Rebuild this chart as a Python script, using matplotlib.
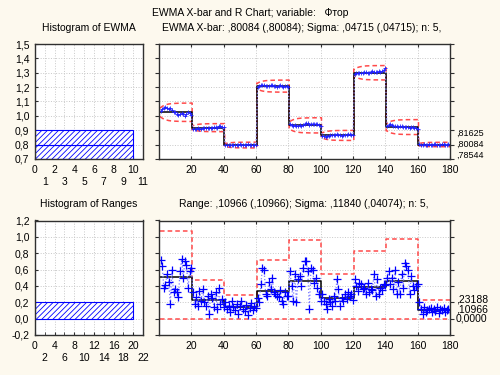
import matplotlib
matplotlib.use('Agg')
import matplotlib.pyplot as plt
import matplotlib.transforms as mtransforms
from matplotlib.ticker import FuncFormatter

plt.rcParams['font.family'] = ['Liberation Sans', 'DejaVu Sans']
plt.rcParams['font.size'] = 7.5
plt.rcParams['hatch.color'] = '#2020ff'
plt.rcParams['hatch.linewidth'] = 0.6

# ---- data ----
seg_len = 20
n_seg = 9

ewma_center = [1.025, 0.918, 0.797, 1.207, 0.934, 0.864, 1.300, 0.922, 0.80084]
ewma_halfwidth = [0.064, 0.028, 0.020, 0.042, 0.053, 0.035, 0.050, 0.052, 0.01541]
limit_ramp = [0.50, 0.64, 0.74, 0.81, 0.86, 0.90, 0.93, 0.95, 0.96, 0.97,
              0.98, 0.985, 0.99, 0.99, 0.995, 1.0, 1.0, 1.0, 1.0, 1.0]

ewma_seg1 = [1.035, 1.045, 1.055, 1.06, 1.058, 1.05, 1.052, 1.04, 1.03, 1.025,
             1.015, 1.005, 1.01, 1.02, 1.01, 1.0, 1.015, 1.025, 1.02, 1.005]
ewma_seg2 = [0.912, 0.908, 0.91, 0.914, 0.912, 0.909, 0.913, 0.916, 0.914, 0.918,
             0.915, 0.913, 0.918, 0.924, 0.92, 0.918, 0.927, 0.93, 0.924, 0.92]
ewma_seg3 = [0.80, 0.797, 0.795, 0.798, 0.80, 0.796, 0.794, 0.797, 0.799, 0.801,
             0.798, 0.795, 0.797, 0.80, 0.802, 0.799, 0.797, 0.798, 0.80, 0.799]
ewma_seg4 = [1.20, 1.205, 1.212, 1.218, 1.215, 1.21, 1.205, 1.208, 1.212, 1.215,
             1.21, 1.205, 1.20, 1.208, 1.212, 1.206, 1.20, 1.205, 1.21, 1.204]
ewma_seg5 = [0.94, 0.935, 0.93, 0.935, 0.928, 0.932, 0.936, 0.933, 0.938, 0.945,
             0.95, 0.948, 0.938, 0.942, 0.946, 0.944, 0.945, 0.94, 0.935, 0.93]
ewma_seg6 = [0.86, 0.858, 0.856, 0.86, 0.862, 0.865, 0.868, 0.866, 0.87, 0.872,
             0.868, 0.865, 0.862, 0.866, 0.87, 0.868, 0.872, 0.875, 0.87, 0.868]
ewma_seg7 = [1.29, 1.295, 1.30, 1.298, 1.295, 1.30, 1.305, 1.302, 1.298, 1.30,
             1.305, 1.31, 1.306, 1.302, 1.305, 1.31, 1.308, 1.312, 1.318, 1.33]
ewma_seg8 = [0.93, 0.938, 0.942, 0.935, 0.932, 0.93, 0.928, 0.925, 0.93, 0.927,
             0.924, 0.922, 0.925, 0.92, 0.918, 0.922, 0.92, 0.918, 0.915, 0.912]
ewma_seg9 = [0.805, 0.80, 0.798, 0.801, 0.799, 0.80, 0.802, 0.80, 0.798, 0.801,
             0.803, 0.80, 0.799, 0.80, 0.802, 0.801, 0.799, 0.80, 0.802, 0.801]
ewma_values = (ewma_seg1 + ewma_seg2 + ewma_seg3 + ewma_seg4 + ewma_seg5
               + ewma_seg6 + ewma_seg7 + ewma_seg8 + ewma_seg9)

range_center = [0.506, 0.224, 0.139, 0.343, 0.457, 0.253, 0.388, 0.457, 0.10966]
range_ucl = [1.07, 0.478, 0.286, 0.723, 0.96, 0.54, 0.833, 0.968, 0.23188]
range_lcl = [0.0] * 9

range_seg1 = [0.72, 0.64, 0.38, 0.41, 0.55, 0.45, 0.18, 0.60, 0.32, 0.36,
              0.32, 0.26, 0.58, 0.73, 0.50, 0.70, 0.66, 0.38, 0.58, 0.62]
range_seg2 = [0.32, 0.18, 0.26, 0.15, 0.34, 0.22, 0.36, 0.20, 0.16, 0.28,
              0.06, 0.30, 0.25, 0.14, 0.32, 0.12, 0.37, 0.18, 0.24, 0.14]
range_seg3 = [0.20, 0.12, 0.16, 0.08, 0.22, 0.14, 0.10, 0.18, 0.06, 0.15,
              0.21, 0.12, 0.09, 0.17, 0.05, 0.13, 0.19, 0.11, 0.16, 0.13]
range_seg4 = [0.25, 0.20, 0.42, 0.62, 0.60, 0.30, 0.28, 0.45, 0.36, 0.50,
              0.32, 0.30, 0.28, 0.26, 0.35, 0.22, 0.18, 0.32, 0.28, 0.28]
range_seg5 = [0.58, 0.40, 0.22, 0.55, 0.20, 0.48, 0.52, 0.40, 0.62, 0.70,
              0.70, 0.58, 0.12, 0.62, 0.60, 0.44, 0.50, 0.38, 0.30, 0.22]
range_seg6 = [0.30, 0.22, 0.18, 0.12, 0.24, 0.20, 0.16, 0.28, 0.22, 0.48,
              0.36, 0.16, 0.25, 0.22, 0.30, 0.24, 0.32, 0.28, 0.30, 0.23]
range_seg7 = [0.48, 0.40, 0.34, 0.44, 0.42, 0.36, 0.38, 0.30, 0.44, 0.32,
              0.36, 0.35, 0.55, 0.28, 0.48, 0.30, 0.38, 0.35, 0.42, 0.41]
range_seg8 = [0.50, 0.58, 0.42, 0.50, 0.36, 0.60, 0.30, 0.45, 0.30, 0.55,
              0.38, 0.68, 0.64, 0.60, 0.30, 0.52, 0.40, 0.35, 0.40, 0.42]
range_seg9 = [0.20, 0.12, 0.06, 0.14, 0.08, 0.10, 0.12, 0.13, 0.08, 0.12,
              0.09, 0.14, 0.07, 0.12, 0.10, 0.13, 0.08, 0.11, 0.12, 0.10]
range_values = (range_seg1 + range_seg2 + range_seg3 + range_seg4 + range_seg5
                + range_seg6 + range_seg7 + range_seg8 + range_seg9)

hist_ewma_bins = [0.7, 0.8]
hist_ewma_counts = [10, 10]
hist_range_bins = [0.0]
hist_range_counts = [20]

ewma_right_labels = [(0.81625, ',81625'), (0.80084, ',80084'), (0.78544, ',78544')]
range_right_labels = [(0.23188, ',23188'), (0.10966, ',10966'), (0.0, '0,0000')]

samples = list(range(1, n_seg * seg_len + 1))

BG = '#fdf9ee'
RED = '#ff4a4a'
BLUE = '#0000ff'


def comma(v, pos):
    return f'{v:.1f}'.replace('.', ',')


def step_line(values):
    # per-segment curves joined by vertical jumps at segment edges
    xs, ys = [], []
    for s in range(n_seg):
        vals = values[s * seg_len:(s + 1) * seg_len]
        xs += [s * seg_len + 0.5] + samples[s * seg_len:(s + 1) * seg_len] + [s * seg_len + seg_len + 0.5]
        ys += [vals[0]] + list(vals) + [vals[-1]]
    return xs, ys


def per_segment(values):
    out = []
    for v in values:
        out += [v] * seg_len
    return out


def two_row_xticks(ax, row1, row2):
    # Statistica style: alternate tick labels on two rows
    ax.set_xticks(row1)
    ax.set_xticklabels([str(v) for v in row1])
    ax.set_xticks(row2, minor=True)
    ax.set_xticklabels([str(v) for v in row2], minor=True)
    ax.tick_params(axis='x', which='major', pad=4)
    ax.tick_params(axis='x', which='minor', pad=13)
    ax.grid(True, which='both', color='#c8c8c8', linestyle=':', linewidth=0.7)


fig = plt.figure(figsize=(5, 3.75), dpi=100, facecolor=BG)

L1, W1 = 35 / 500, 108 / 500
L2, W2 = 159 / 500, 291 / 500
ax_h1 = fig.add_axes([L1, 1 - 159 / 375, W1, 115 / 375])
ax_e = fig.add_axes([L2, 1 - 159 / 375, W2, 115 / 375])
ax_h2 = fig.add_axes([L1, 1 - 335 / 375, W1, 114.5 / 375])
ax_r = fig.add_axes([L2, 1 - 335 / 375, W2, 114.5 / 375])

for ax in (ax_h1, ax_e, ax_h2, ax_r):
    ax.set_facecolor('white')
    ax.grid(True, color='#c8c8c8', linestyle=':', linewidth=0.7)
    ax.set_axisbelow(True)
    for sp in ax.spines.values():
        sp.set_color('#303030')
        sp.set_linewidth(1.0)

# ---- histograms ----
ax_h1.barh([b + 0.05 for b in hist_ewma_bins], hist_ewma_counts, height=0.1,
           color='white', edgecolor=BLUE, hatch='//////', linewidth=0.8, align='center')
ax_h1.set_ylim(0.7, 1.5)
ax_h1.set_xlim(0, 11)
ax_h1.set_yticks([0.7, 0.8, 0.9, 1.0, 1.1, 1.2, 1.3, 1.4, 1.5])
ax_h1.yaxis.set_major_formatter(FuncFormatter(comma))
two_row_xticks(ax_h1, list(range(0, 12, 2)), list(range(1, 12, 2)))

ax_h2.barh([b + 0.1 for b in hist_range_bins], hist_range_counts, height=0.2,
           color='white', edgecolor=BLUE, hatch='//////', linewidth=0.8, align='center')
ax_h2.set_ylim(-0.2, 1.2)
ax_h2.set_xlim(0, 22)
ax_h2.set_yticks([-0.2, 0.0, 0.2, 0.4, 0.6, 0.8, 1.0, 1.2])
ax_h2.yaxis.set_major_formatter(FuncFormatter(comma))
two_row_xticks(ax_h2, list(range(0, 23, 4)), list(range(2, 23, 4)))

for ax in (ax_h1, ax_h2):
    ax.tick_params(axis='both', which='both', direction='in', length=2,
                   colors='#303030', labelcolor='black')
    ax.tick_params(axis='y', pad=4)

# ---- EWMA chart ----
ewma_lim_up = []
ewma_lim_lo = []
for s in range(n_seg):
    for k in range(seg_len):
        ewma_lim_up.append(ewma_center[s] + ewma_halfwidth[s] * limit_ramp[k])
        ewma_lim_lo.append(ewma_center[s] - ewma_halfwidth[s] * limit_ramp[k])

xs, ys = step_line(ewma_lim_up)
ax_e.plot(xs, ys, color=RED, linestyle=(0, (3, 2)), linewidth=1.1)
xs, ys = step_line(ewma_lim_lo)
ax_e.plot(xs, ys, color=RED, linestyle=(0, (3, 2)), linewidth=1.1)
xs, ys = step_line(per_segment(ewma_center))
ax_e.plot(xs, ys, color='black', linewidth=1.1)
ax_e.plot(samples, ewma_values, color='#9090ff', linestyle=':', linewidth=0.9)
ax_e.plot(samples, ewma_values, linestyle='none', marker='+', markersize=3,
          markeredgewidth=0.6, color='#2020ff')
ax_e.set_xlim(0, 180)
ax_e.set_ylim(0.7, 1.5)
ax_e.set_yticks([0.7, 0.8, 0.9, 1.0, 1.1, 1.2, 1.3, 1.4, 1.5])

# ---- Range chart ----
xs, ys = step_line(per_segment(range_ucl))
ax_r.plot(xs, ys, color=RED, linestyle=(0, (3, 2)), linewidth=1.1)
xs, ys = step_line(per_segment(range_lcl))
ax_r.plot(xs, ys, color=RED, linestyle=(0, (3, 2)), linewidth=1.1)
xs, ys = step_line(per_segment(range_center))
ax_r.plot(xs, ys, color='black', linewidth=1.1)
ax_r.plot(samples, range_values, color='#8080ff', linestyle=':', linewidth=0.9)
ax_r.plot(samples, range_values, linestyle='none', marker='+', markersize=6,
          markeredgewidth=0.9, color=BLUE)
ax_r.set_xlim(0, 180)
ax_r.set_ylim(-0.2, 1.2)
ax_r.set_yticks([-0.2, 0.0, 0.2, 0.4, 0.6, 0.8, 1.0, 1.2])

for ax in (ax_e, ax_r):
    ax.set_xticks(range(20, 181, 20))
    ax.yaxis.set_ticks_position('both')
    ax.xaxis.set_ticks_position('both')
    ax.tick_params(axis='y', which='both', labelleft=False, labelright=False,
                   direction='out', length=3, colors='#303030')
    ax.tick_params(axis='x', direction='in', length=2, colors='#303030',
                   labelcolor='black', pad=4)

# right-hand limit labels (the three EWMA values sit almost on top of each
# other, so they are nudged apart by a few points)
trans_e = mtransforms.blended_transform_factory(ax_e.transAxes, ax_e.transData)
for (yv, txt), dy in zip(ewma_right_labels, [6.5, 0, -6.5]):
    ax_e.annotate(txt, xy=(1.02, yv), xycoords=trans_e, xytext=(0, dy),
                  textcoords='offset points', va='center', ha='left', fontsize=6.5)
trans_r = mtransforms.blended_transform_factory(ax_r.transAxes, ax_r.transData)
for yv, txt in range_right_labels:
    ax_r.text(1.02, yv, txt, transform=trans_r, va='center', ha='left', fontsize=7.5)

# ---- titles ----
fig.text(0.5, 1 - 13 / 375, 'EWMA X-bar and R Chart; variable:   Фтор', ha='center', va='center')
fig.text(89 / 500, 1 - 28 / 375, 'Histogram of EWMA', ha='center', va='center')
fig.text(302 / 500, 1 - 28 / 375,
         'EWMA X-bar: ,80084 (,80084); Sigma: ,04715 (,04715); n: 5,', ha='center', va='center')
fig.text(89 / 500, 1 - 204 / 375, 'Histogram of Ranges', ha='center', va='center')
fig.text(304 / 500, 1 - 204 / 375,
         'Range: ,10966 (,10966); Sigma: ,11840 (,04074); n: 5,', ha='center', va='center')

fig.savefig('out.png', dpi=100, facecolor=BG)
